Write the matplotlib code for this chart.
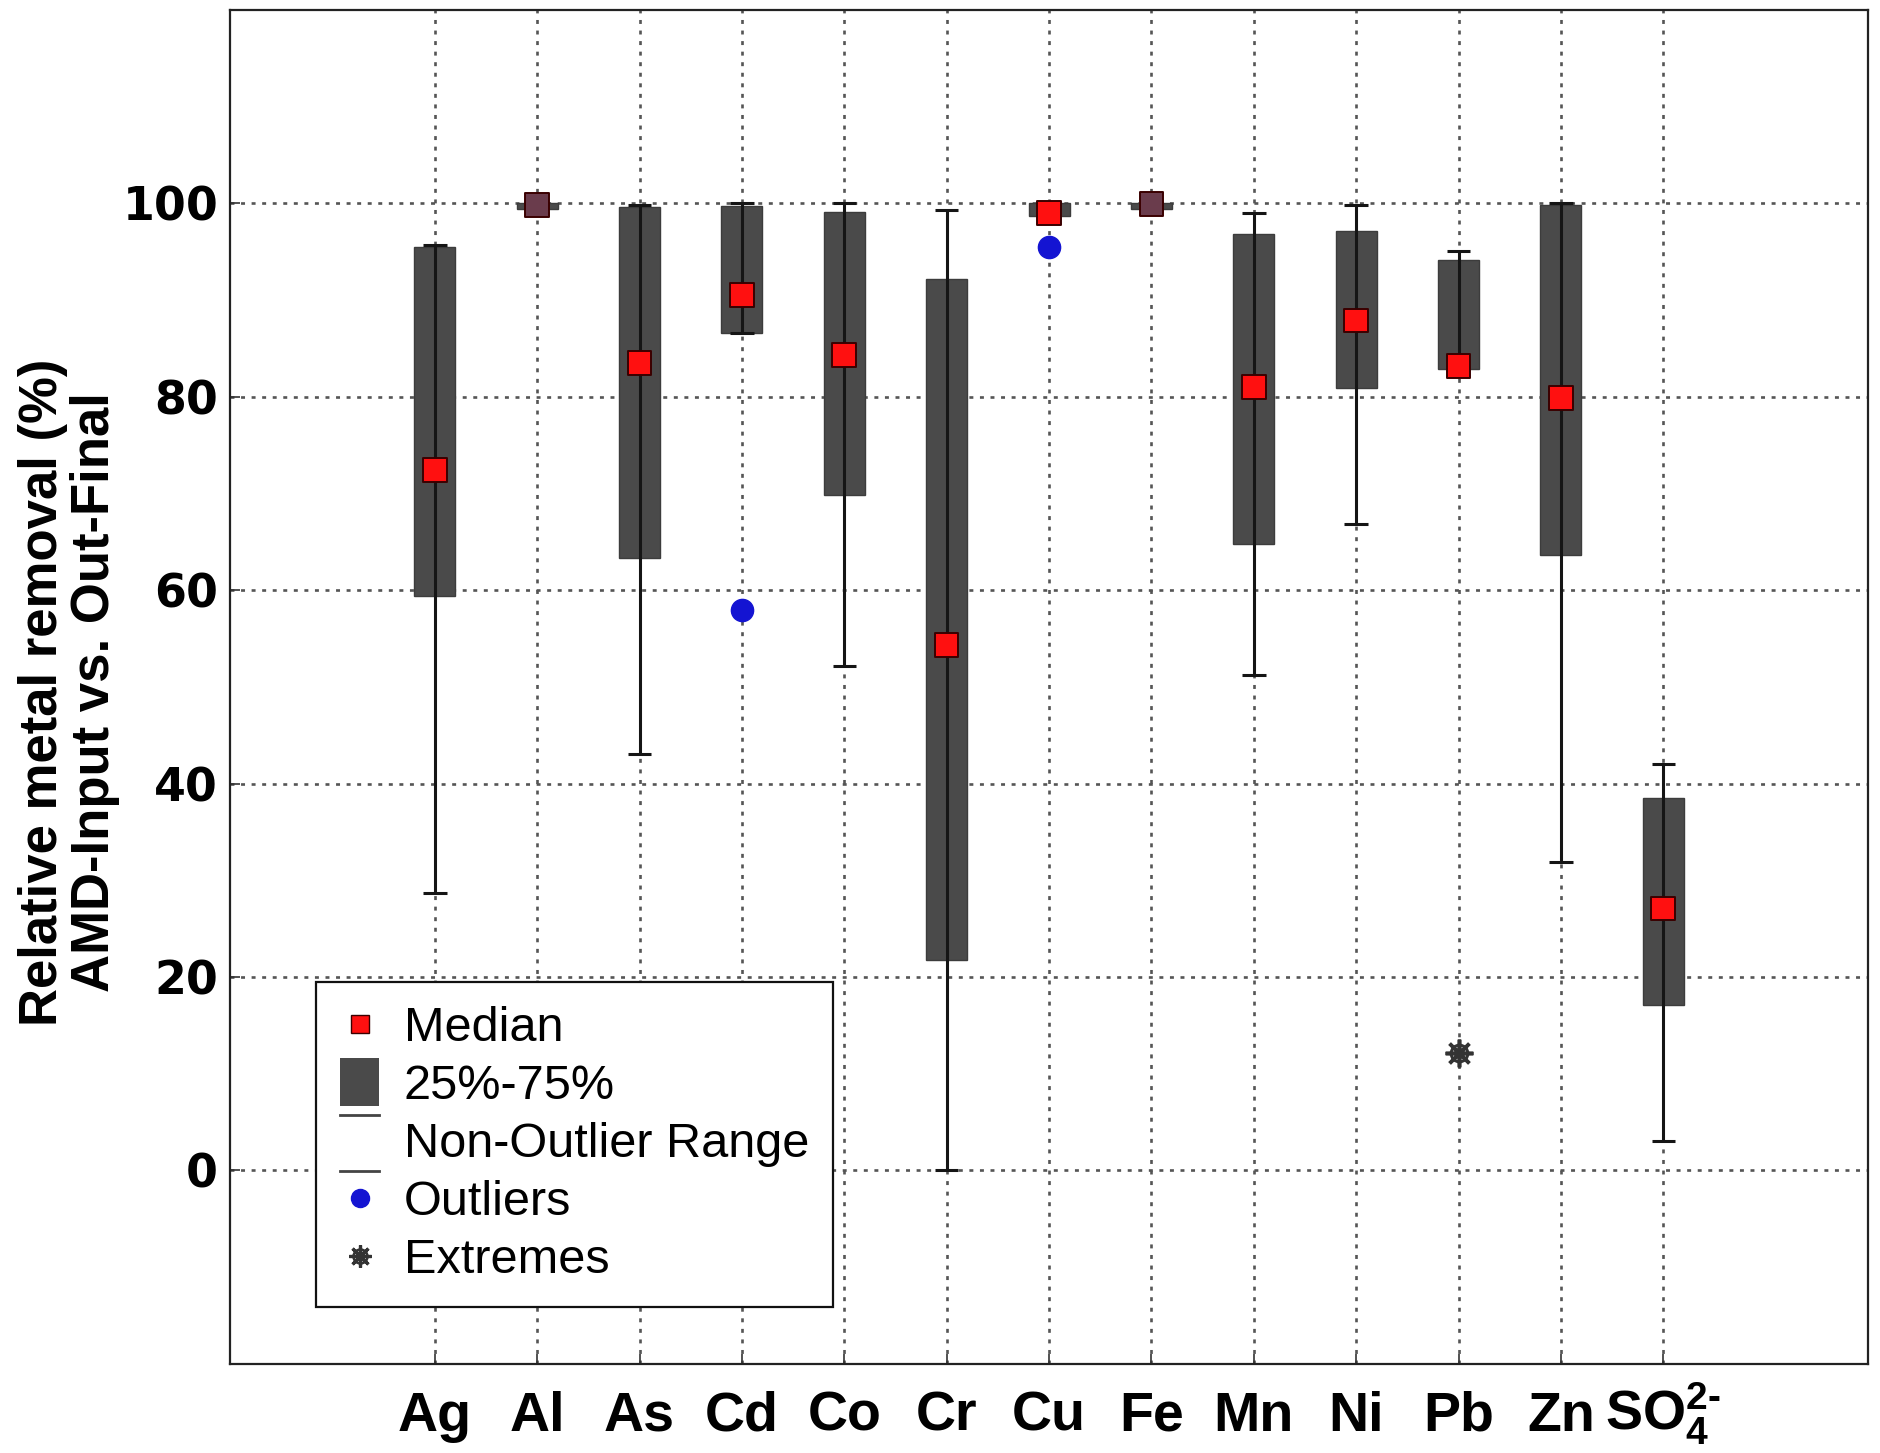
import matplotlib
matplotlib.use("Agg")
import matplotlib.pyplot as plt
from matplotlib.lines import Line2D
from matplotlib.patches import Rectangle, Patch
from matplotlib.legend_handler import HandlerBase, HandlerTuple

# ---- data: relative removal (%) per element ----
categories = ["Ag", "Al", "As", "Cd", "Co", "Cr", "Cu", "Fe", "Mn", "Ni", "Pb", "Zn", "SO4"]
tick_labels = ["Ag", "Al", "As", "Cd", "Co", "Cr", "Cu", "Fe", "Mn", "Ni", "Pb", "Zn",
               r"SO$_{4}^{2\text{-}}$"]
whisker_low = [28.7, 99.0, 43.1, 86.6, 52.2, 0.0, 98.5, 99.2, 51.2, 66.8, 83.0, 31.9, 3.0]
q1 = [59.4, 99.4, 63.3, 86.6, 69.8, 21.8, 98.7, 99.4, 64.8, 80.9, 82.9, 63.6, 17.1]
median = [72.4, 99.8, 83.5, 90.5, 84.3, 54.3, 99.0, 99.9, 81.0, 87.9, 83.2, 79.9, 27.1]
q3 = [95.5, 100.0, 99.6, 99.7, 99.1, 92.2, 100.0, 100.0, 96.8, 97.1, 94.1, 99.8, 38.5]
whisker_high = [95.7, 100.0, 99.8, 100.0, 100.0, 99.3, 100.0, 100.0, 99.0, 99.8, 95.1, 100.0, 42.0]
outlier_cats = ["Cd", "Cu"]
outlier_vals = [57.9, 95.5]
extreme_cats = ["Pb"]
extreme_vals = [12.1]
yticks = [0, 20, 40, 60, 80, 100]

# ---- styling ----
BOX_COLOR = "#4a4a4a"
LINE_COLOR = "#151515"
MEDIAN_RED = "#ff1010"
MEDIAN_DARK = "#6a3c4c"   # medians hidden under the collapsed Al / Fe boxes
OUT_BLUE = "#1414d2"
EXT_GRAY = "#333333"

plt.rcParams["mathtext.fontset"] = "custom"
plt.rcParams["mathtext.rm"] = "Liberation Sans:bold"
plt.rcParams["mathtext.it"] = "Liberation Sans:bold"
plt.rcParams["mathtext.bf"] = "Liberation Sans:bold"

fig = plt.figure(figsize=(18.81, 14.53), dpi=100)
ax = fig.add_axes([0.1223, 0.0613, 0.8708, 0.9319])

pos = {c: i + 1 for i, c in enumerate(categories)}
x = [pos[c] for c in categories]
box_w = 0.4
cap_half = 0.115

# interquartile boxes
ax.bar(x, [b - a for a, b in zip(q1, q3)], bottom=q1, width=box_w,
       color=BOX_COLOR, edgecolor="#3c3c3c", linewidth=1.0, zorder=2)
# whiskers with caps
ax.vlines(x, whisker_low, whisker_high, color=LINE_COLOR, linewidth=2.2, zorder=3)
xs_lo = [v - cap_half for v in x]
xs_hi = [v + cap_half for v in x]
ax.hlines(whisker_low, xs_lo, xs_hi, color=LINE_COLOR, linewidth=2.2, zorder=3)
ax.hlines(whisker_high, xs_lo, xs_hi, color=LINE_COLOR, linewidth=2.2, zorder=3)
# medians
med_face = [MEDIAN_DARK if c in ("Al", "Fe") else MEDIAN_RED for c in categories]
ax.scatter(x, median, marker="s", s=290, c=med_face, edgecolors="#3a0000",
           linewidths=1.4, zorder=5)
# outliers and extremes
ax.plot([pos[c] for c in outlier_cats], outlier_vals, "o", ms=16,
        color=OUT_BLUE, zorder=5)
ax.plot([pos[c] for c in extreme_cats], extreme_vals, ls="none", marker=(8, 2, 0),
        ms=20, mew=2.6, color=EXT_GRAY, zorder=5)
ax.plot([pos[c] for c in extreme_cats], extreme_vals, ls="none", marker="o",
        ms=12, mew=2.2, mfc="none", mec=EXT_GRAY, zorder=5)

# axes, ticks, grid
ax.set_xlim(-1, 15)
ax.set_ylim(-20, 120)
ax.set_xticks(x)
ax.set_xticklabels(tick_labels)
ax.set_yticks(yticks)
ax.set_yticklabels([str(v) for v in yticks])
ax.set_axisbelow(True)
ax.grid(True, color="#555555", linestyle=(0, (1.5, 2.5)), linewidth=1.9)
ax.tick_params(axis="both", direction="in", length=7, width=1.2, color="#333333")
ax.tick_params(axis="x", pad=48)
ax.tick_params(axis="y", pad=8.5)
for lab in ax.get_xticklabels():
    lab.set_fontfamily("Liberation Sans")
    lab.set_fontweight("bold")
    lab.set_fontsize(40)
    lab.set_verticalalignment("baseline")
for lab in ax.get_yticklabels():
    lab.set_fontfamily("DejaVu Sans")
    lab.set_fontweight("bold")
    lab.set_fontsize(33)
for sp in ax.spines.values():
    sp.set_linewidth(1.6)
    sp.set_color("#222222")

ax.set_ylabel("Relative metal removal (%)\nAMD-Input vs. Out-Final",
              fontfamily="Liberation Sans", fontweight="bold", fontsize=38,
              linespacing=1.05)
ax.yaxis.set_label_coords(-0.067, 0.496)


# ---- legend ----
class TallBoxHandler(HandlerBase):
    def create_artists(self, legend, orig_handle, xdescent, ydescent,
                       width, height, fontsize, trans):
        h = height * 1.4
        r = Rectangle((-xdescent, -ydescent + (height - h) / 2), width, h,
                      facecolor=BOX_COLOR, edgecolor="none", transform=trans)
        return [r]


class RangeHandler(HandlerBase):
    def create_artists(self, legend, orig_handle, xdescent, ydescent,
                       width, height, fontsize, trans):
        y_top = -ydescent + height * 1.25
        y_bot = -ydescent - height * 0.4
        l1 = Line2D([-xdescent, -xdescent + width], [y_top, y_top],
                    color="#444444", linewidth=2.0, transform=trans)
        l2 = Line2D([-xdescent, -xdescent + width], [y_bot, y_bot],
                    color="#444444", linewidth=2.0, transform=trans)
        return [l1, l2]


h_med = Line2D([], [], ls="none", marker="s", ms=13, mfc=MEDIAN_RED, mec="#3a0000", mew=1.0)
h_box = Patch(facecolor=BOX_COLOR)
h_rng = Patch(facecolor="none")
h_out = Line2D([], [], ls="none", marker="o", ms=13, color=OUT_BLUE)
h_ext = (Line2D([], [], ls="none", marker=(8, 2, 0), ms=16, mew=2.3, color=EXT_GRAY),
         Line2D([], [], ls="none", marker="o", ms=10, mew=1.9, mfc="none", mec=EXT_GRAY))

leg = ax.legend([h_med, h_box, h_rng, h_out, h_ext],
                ["Median", "25%-75%", "Non-Outlier Range", "Outliers", "Extremes"],
                handler_map={h_box: TallBoxHandler(), h_rng: RangeHandler(),
                             tuple: HandlerTuple(ndivide=1)},
                loc="upper left", bbox_to_anchor=(0.0525, 0.282), borderaxespad=0,
                prop={"family": "Liberation Sans", "size": 35},
                handlelength=0.8, handletextpad=0.5, borderpad=0.5,
                labelspacing=0.265, fancybox=False, framealpha=1, edgecolor="#111111")
leg.get_frame().set_linewidth(1.6)
leg.set_zorder(10)

fig.savefig("out.png", dpi=100)
